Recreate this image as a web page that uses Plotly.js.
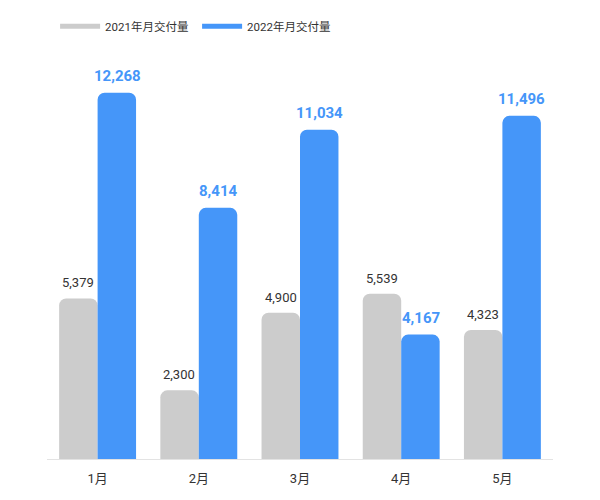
<!DOCTYPE html>
<html>
<head>
<meta charset="utf-8">
<script src="https://cdn.plot.ly/plotly-3.0.1.min.js"></script>
<style>
  html, body { margin: 0; padding: 0; background: #ffffff; }
  #chart { width: 600px; height: 500px; }
</style>
</head>
<body>
<div id="chart"></div>
<script>
var months = ["1月", "2月", "3月", "4月", "5月"]
var deliveries2021 = [5379, 2300, 4900, 5539, 4323]
var deliveries2022 = [12268, 8414, 11034, 4167, 11496]
var seriesNames = ["2021年月交付量", "2022年月交付量"]

var grey = "#cccccc"
var blue = "#4596f9"
var fontFamily = "Roboto, 'Noto Sans CJK SC', sans-serif"

function fmt(n) {
    return n.toLocaleString("en-US")
}

var bar2021 = {
    type: "bar",
    x: months,
    y: deliveries2021,
    marker: { color: grey, cornerradius: 7 },
    showlegend: false,
    hoverinfo: "none"
}

var bar2022 = {
    type: "bar",
    x: months,
    y: deliveries2022,
    marker: { color: blue, cornerradius: 7 },
    showlegend: false,
    hoverinfo: "none"
}

// legend-only traces so the key shows wide flat swatches
var key2021 = {
    type: "scatter", mode: "lines", x: [null], y: [null],
    name: seriesNames[0], line: { color: grey, width: 5 }
}
var key2022 = {
    type: "scatter", mode: "lines", x: [null], y: [null],
    name: seriesNames[1], line: { color: blue, width: 5 }
}

var annotations = []
months.forEach(function (m, i) {
    annotations.push({
        x: m, y: deliveries2021[i], xref: "x", yref: "y",
        text: fmt(deliveries2021[i]), showarrow: false,
        xshift: -19.5, yshift: 6, yanchor: "bottom",
        font: { family: fontFamily, size: 13, color: "#333333" }
    })
    annotations.push({
        x: m, y: deliveries2022[i], xref: "x", yref: "y",
        text: "<b>" + fmt(deliveries2022[i]) + "</b>", showarrow: false,
        xshift: 19.5, yshift: 6, yanchor: "bottom",
        font: { family: fontFamily, size: 15, color: blue }
    })
})

var layout = {
    width: 600,
    height: 500,
    margin: { l: 47, r: 47, t: 60, b: 41, pad: 0 },
    barmode: "group",
    bargap: 0.24,
    bargroupgap: 0,
    paper_bgcolor: "#ffffff",
    plot_bgcolor: "#ffffff",
    font: { family: fontFamily, size: 12, color: "#333333" },
    showlegend: true,
    legend: {
        orientation: "h",
        x: 0.016, xanchor: "left",
        y: 1.09, yanchor: "middle",
        itemwidth: 40,
        entrywidth: 87,
        entrywidthmode: "pixels",
        font: { family: fontFamily, size: 11.5, color: "#333333" }
    },
    xaxis: {
        type: "category",
        showline: true,
        linecolor: "#e3e3e3",
        linewidth: 1,
        ticks: "",
        ticklabelstandoff: 7,
        tickfont: { family: fontFamily, size: 13, color: "#333333" },
        showgrid: false,
        zeroline: false
    },
    yaxis: {
        range: [0, 13300],
        visible: false,
        showgrid: false,
        zeroline: false
    },
    annotations: annotations
}

Plotly.newPlot("chart", [bar2021, bar2022, key2021, key2022], layout, {
    displayModeBar: false,
    staticPlot: true
})
</script>
</body>
</html>
